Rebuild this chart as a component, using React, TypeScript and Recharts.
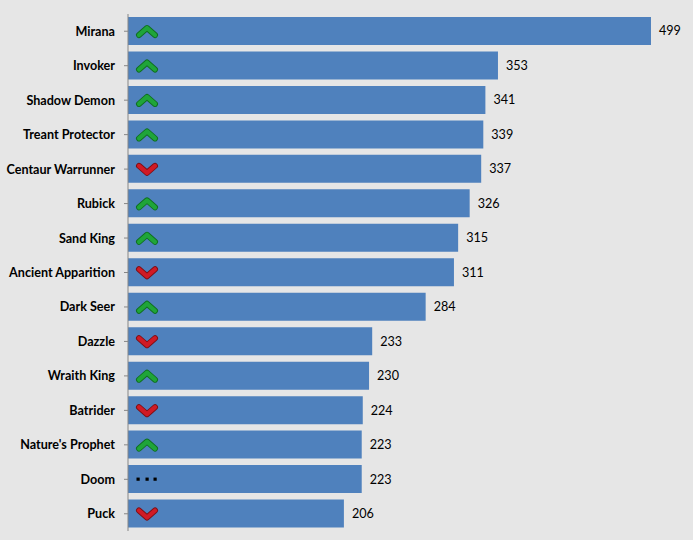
import { BarChart, Bar, XAxis, YAxis, LabelList } from 'recharts';

const heroes = [
    'Mirana', 'Invoker', 'Shadow Demon', 'Treant Protector', 'Centaur Warrunner',
    'Rubick', 'Sand King', 'Ancient Apparition', 'Dark Seer', 'Dazzle',
    'Wraith King', 'Batrider', "Nature's Prophet", 'Doom', 'Puck',
];
const picks = [499, 353, 341, 339, 337, 326, 315, 311, 284, 233, 230, 224, 223, 223, 206];
const trends = ['up', 'up', 'up', 'up', 'down', 'up', 'up', 'down', 'up', 'down', 'up', 'down', 'up', 'same', 'down'];

const data = heroes.map((name, i) => ({ name, picks: picks[i], trend: trends[i] }));

const FONT = 'Lato, "Open Sans", sans-serif';

// little trend marker drawn inside the start of each bar
const TrendIcon = (props: any) => {
    const { x, y, height, index } = props;
    const t = trends[index];
    const cx = x + 19;
    const cy = y + height / 2;
    if (t === 'same') {
        return (
            <g>
                {[-9, 0, 8].map((d) => (
                    <rect key={d} x={cx + d - 1.5} y={cy - 1.5} width={3.2} height={3.2} fill="#000" />
                ))}
            </g>
        );
    }
    const up = t === 'up';
    const pts = up
        ? `${cx - 8},${cy + 4} ${cx},${cy - 3} ${cx + 8},${cy + 4}`
        : `${cx - 8},${cy - 3} ${cx},${cy + 4} ${cx + 8},${cy - 3}`;
    const dark = up ? '#0f6e1f' : '#7d0f15';
    const light = up ? '#1fa539' : '#d01a25';
    return (
        <g>
            <polyline points={pts} fill="none" stroke={dark} strokeWidth={6} strokeLinecap="round" strokeLinejoin="round" />
            <polyline points={pts} fill="none" stroke={light} strokeWidth={4.2} strokeLinecap="round" strokeLinejoin="round" />
        </g>
    );
};

export default function App() {
    return (
        <div style={{ position: 'absolute', left: 0, top: 0, width: 693, height: 540, background: '#e6e6e6' }}>
            <BarChart
                width={693}
                height={540}
                data={data}
                layout="vertical"
                margin={{ top: 14, right: 20, bottom: 9, left: 0 }}
            >
                <XAxis type="number" domain={[0, 520]} hide />
                <YAxis
                    type="category"
                    dataKey="name"
                    width={128}
                    axisLine={{ stroke: '#868686' }}
                    tickLine={{ stroke: '#868686' }}
                    tickSize={4}
                    tickMargin={9}
                    interval={0}
                    tick={{ fontFamily: FONT, fontSize: 12.6, fontWeight: 700, fill: '#000' }}
                />
                <Bar dataKey="picks" fill="#4f81bd" barSize={28} isAnimationActive={false}>
                    <LabelList content={<TrendIcon />} />
                    <LabelList
                        dataKey="picks"
                        position="right"
                        offset={8}
                        style={{ fontFamily: FONT, fontSize: 12.6, fill: '#000' }}
                    />
                </Bar>
            </BarChart>
        </div>
    );
}
